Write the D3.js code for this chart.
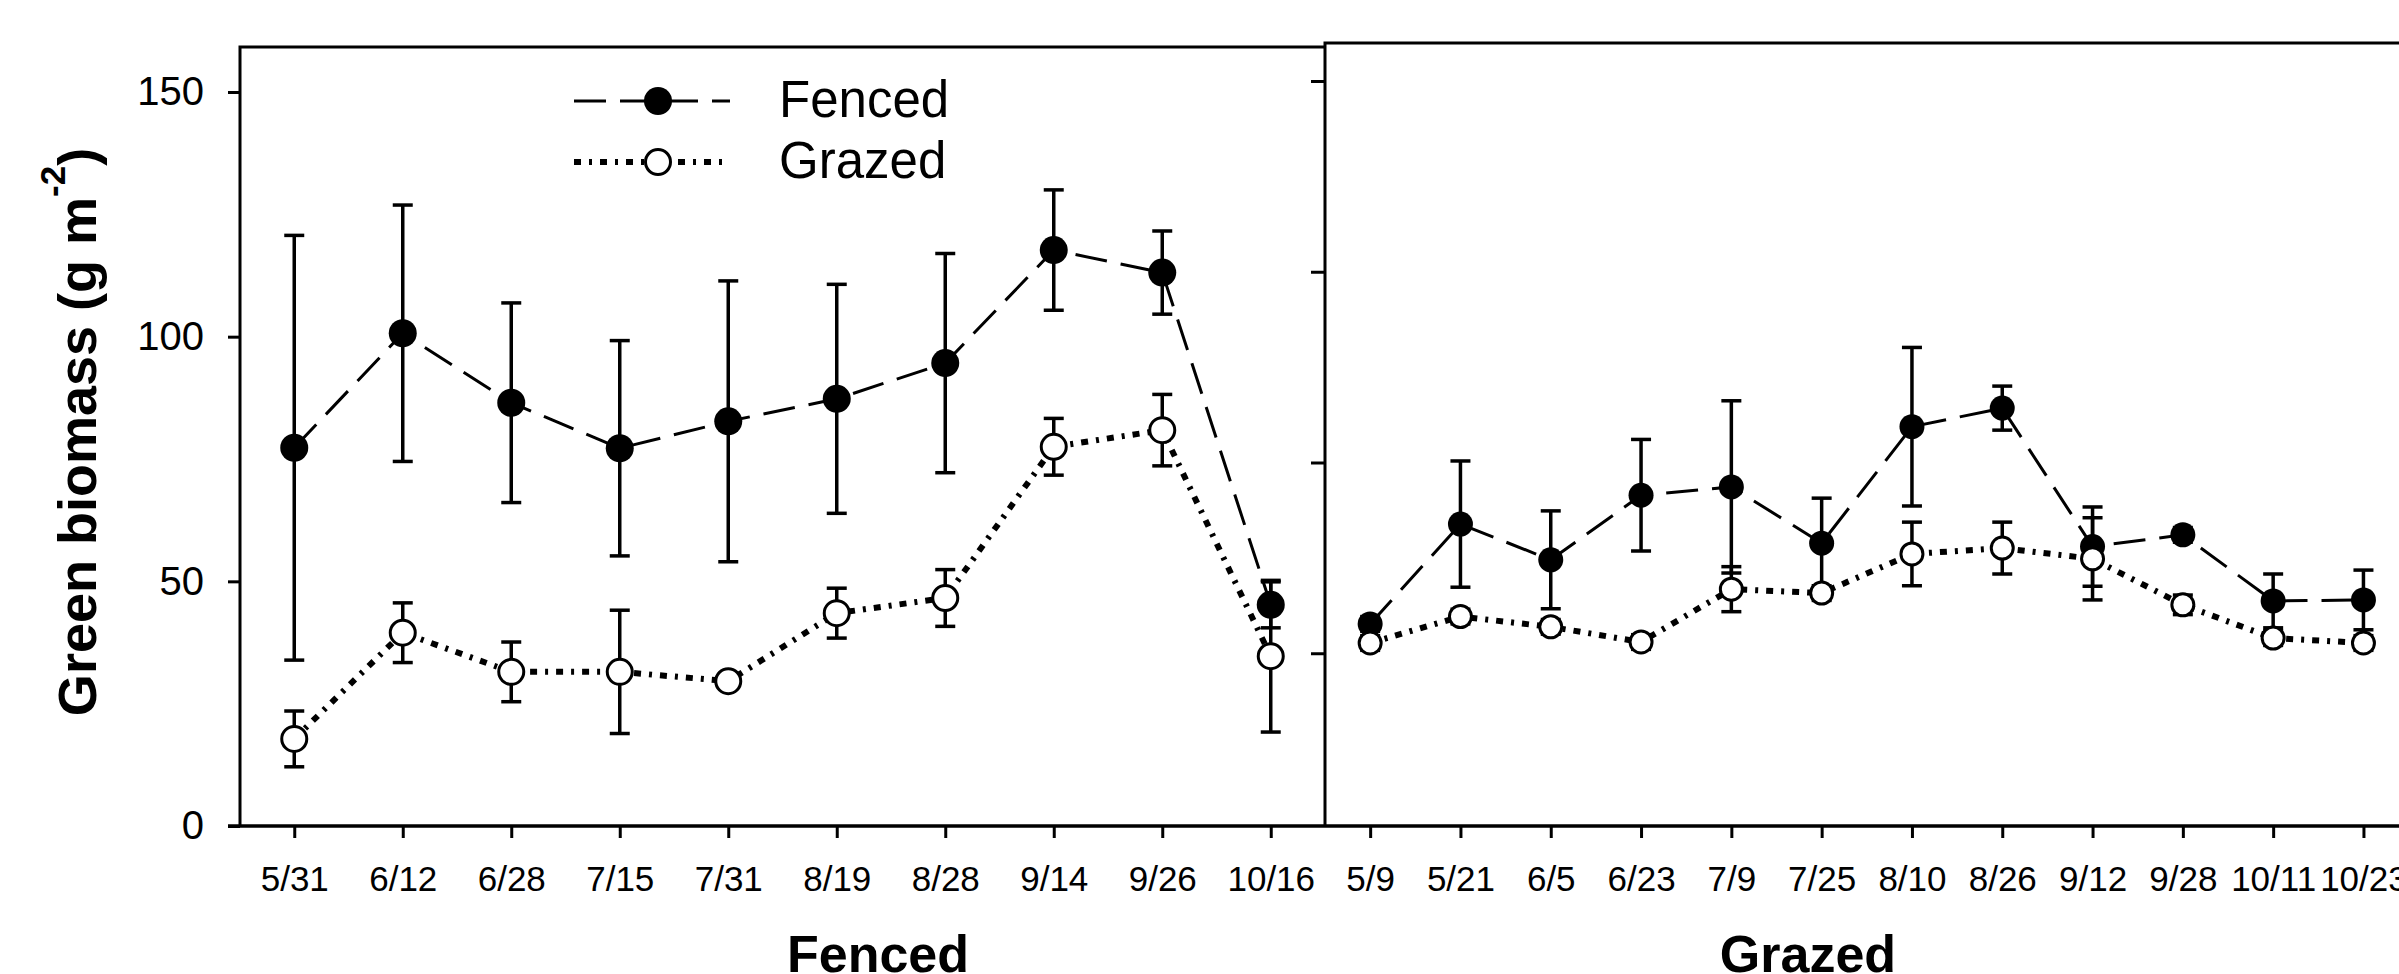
<!DOCTYPE html>
<html>
<head>
<meta charset="utf-8">
<script src="https://cdn.jsdelivr.net/npm/d3@7"></script>
<style>
  html, body { margin: 0; padding: 0; background: #fff; }
  svg { display: block; font-family: "Liberation Sans", Arial, sans-serif; }
</style>
</head>
<body>
<svg class="chart" width="2399" height="974"></svg>
<script>
// sampling dates for the two plots
const fencedDates = ["5/31", "6/12", "6/28", "7/15", "7/31", "8/19", "8/28", "9/14", "9/26", "10/16"];
const grazedDates = ["5/9", "5/21", "6/5", "6/23", "7/9", "7/25", "8/10", "8/26", "9/12", "9/28", "10/11", "10/23"];

// left plot (Fenced site)
const leftFencedMean = [77.3, 100.7, 86.5, 77.2, 82.7, 87.3, 94.6, 117.7, 113.1, 45.2];
const leftFencedSE   = [43.4, 26.2, 20.4, 22.0, 28.7, 23.4, 22.4, 12.3, 8.5, 4.7];
const leftGrazedMean = [17.8, 39.5, 31.5, 31.5, 29.6, 43.5, 46.6, 77.5, 80.9, 34.7];
const leftGrazedSE   = [5.7, 6.1, 6.1, 12.6, 1.5, 5.1, 5.8, 5.8, 7.3, 15.5];

// right plot (Grazed site)
const rightFencedMean = [41.3, 61.7, 54.4, 67.6, 69.3, 57.8, 81.6, 85.4, 57.1, 59.5, 46.0, 46.2];
const rightFencedSE   = [1.5, 12.9, 10.0, 11.4, 17.6, 9.2, 16.2, 4.5, 8.1, 1.5, 5.5, 6.1];
const rightGrazedMean = [37.4, 42.8, 40.7, 37.6, 48.4, 47.6, 55.6, 56.8, 54.6, 45.2, 38.4, 37.4];
const rightGrazedSE   = [1.5, 1.5, 1.5, 1.5, 4.6, 1.5, 6.5, 5.3, 8.4, 2.0, 1.5, 1.5];

const yTicks = [0, 50, 100, 150];
const rightTicks = [40, 80, 120, 160];
const legendItems = ["Fenced", "Grazed"];
const panelTitles = ["Fenced", "Grazed"];

const svg = d3.select('.chart');

const left = 240, mid = 1325, bottom = 826;
const y = d3.scaleLinear().domain([0, 159.2]).range([bottom, 47]);
// the right plot has its own (unlabelled) y ticks
const yR = d3.scaleLinear().domain([0, 160]).range([844, 81]);

const xL = d3.scalePoint().domain(fencedDates).range([left, mid]).padding(0.5);
const xR = d3.scalePoint().domain(grazedDates).range([mid, mid + 12 * 90.3]).padding(0.5);

const styles = {
  fenced: { dash: '32,14', width: 3 },
  grazed: { dash: '7,8,3,8', width: 6 }
};

// frames
svg.append('path')
  .attr('d', `M${left},${bottom}V47H${mid}`)
  .attr('fill', 'none').attr('stroke', '#000').attr('stroke-width', 3);
svg.append('path')
  .attr('d', `M${mid},${bottom}V43H2399`)
  .attr('fill', 'none').attr('stroke', '#000').attr('stroke-width', 3);
svg.append('line')
  .attr('x1', left - 12).attr('x2', 2399)
  .attr('y1', bottom).attr('y2', bottom)
  .attr('stroke', '#000').attr('stroke-width', 3.5);

// y axis (left)
const yAxis = svg.append('g')
  .attr('transform', `translate(${left},0)`)
  .call(d3.axisLeft(y).tickValues(yTicks).tickSize(12).tickPadding(24).tickFormat(d3.format('d')));
yAxis.select('.domain').remove();
yAxis.selectAll('line').attr('stroke-width', 3);
yAxis.selectAll('text').attr('font-size', 40).attr('font-family', '"Liberation Sans", Arial, sans-serif').attr('fill', '#000');

// right plot ticks
const yAxisR = svg.append('g')
  .attr('transform', `translate(${mid},0)`)
  .call(d3.axisLeft(yR).tickValues(rightTicks).tickSize(14).tickFormat(''));
yAxisR.select('.domain').remove();
yAxisR.selectAll('line').attr('stroke-width', 3);

// x axes
const drawX = (scale) => {
  const g = svg.append('g')
    .attr('transform', `translate(0,${bottom})`)
    .call(d3.axisBottom(scale).tickSize(12).tickPadding(20));
  g.select('.domain').remove();
  g.selectAll('line').attr('stroke-width', 3);
  g.selectAll('text')
    .attr('font-size', 35)
    .attr('font-family', '"Liberation Sans", Arial, sans-serif')
    .attr('fill', '#000')
    .attr('dy', '0.95em');
};
drawX(xL);
drawX(xR);

// series
const makeSeries = (dates, mean, se) => dates.map((d, i) => ({ date: d, v: mean[i], se: se[i] }));
const panels = [
  { x: xL, r: 14, fenced: makeSeries(fencedDates, leftFencedMean, leftFencedSE), grazed: makeSeries(fencedDates, leftGrazedMean, leftGrazedSE) },
  { x: xR, r: 12.5, fenced: makeSeries(grazedDates, rightFencedMean, rightFencedSE), grazed: makeSeries(grazedDates, rightGrazedMean, rightGrazedSE) }
];

panels.forEach(p => {
  const line = d3.line().x(d => p.x(d.date)).y(d => y(d.v));

  ['fenced', 'grazed'].forEach(k => {
    svg.append('path')
      .datum(p[k])
      .attr('d', line)
      .attr('fill', 'none')
      .attr('stroke', '#000')
      .attr('stroke-width', styles[k].width)
      .attr('stroke-dasharray', styles[k].dash);
  });

  ['fenced', 'grazed'].forEach(k => {
    const bars = svg.append('g').selectAll('g')
      .data(p[k])
      .enter().append('g')
      .attr('stroke', '#000');
    bars.append('line')
      .attr('x1', d => p.x(d.date)).attr('x2', d => p.x(d.date))
      .attr('y1', d => y(d.v - d.se)).attr('y2', d => y(d.v + d.se))
      .attr('stroke-width', 3.5);
    bars.selectAll('.cap')
      .data(d => [d.v - d.se, d.v + d.se].map(v => ({ date: d.date, v })))
      .enter().append('line')
      .attr('class', 'cap')
      .attr('x1', d => p.x(d.date) - 10).attr('x2', d => p.x(d.date) + 10)
      .attr('y1', d => y(d.v)).attr('y2', d => y(d.v))
      .attr('stroke-width', 3.5);
  });

  svg.append('g').selectAll('circle')
    .data(p.fenced)
    .enter().append('circle')
    .attr('cx', d => p.x(d.date)).attr('cy', d => y(d.v))
    .attr('r', p.r)
    .attr('fill', '#000');

  svg.append('g').selectAll('circle')
    .data(p.grazed)
    .enter().append('circle')
    .attr('cx', d => p.x(d.date)).attr('cy', d => y(d.v))
    .attr('r', p.r - 1.5)
    .attr('fill', '#fff')
    .attr('stroke', '#000')
    .attr('stroke-width', 3);
});

// legend
const legend = svg.append('g').selectAll('g')
  .data(legendItems)
  .enter().append('g')
  .attr('transform', (d, i) => `translate(0,${101 + i * 61})`);
legend.append('line')
  .attr('x1', 574).attr('x2', 730)
  .attr('stroke', '#000')
  .attr('stroke-width', (d, i) => i ? styles.grazed.width : styles.fenced.width)
  .attr('stroke-dasharray', (d, i) => i ? styles.grazed.dash : styles.fenced.dash);
legend.append('circle')
  .attr('cx', 658).attr('r', (d, i) => i ? 12.5 : 14)
  .attr('fill', (d, i) => i ? '#fff' : '#000')
  .attr('stroke', '#000')
  .attr('stroke-width', (d, i) => i ? 3 : 0);
legend.append('text')
  .attr('x', 779).attr('y', 16)
  .attr('font-size', 51)
  .text(d => d);

// panel titles under the axis (cut by the bottom edge, as in the original)
svg.append('g').selectAll('text')
  .data(panelTitles)
  .enter().append('text')
  .attr('x', (d, i) => i ? 1808 : 878)
  .attr('y', 972)
  .attr('text-anchor', 'middle')
  .attr('font-size', 52)
  .attr('font-weight', 'bold')
  .text(d => d);

// y axis title
const title = svg.append('text')
  .attr('transform', 'translate(96,432) rotate(-90)')
  .attr('text-anchor', 'middle')
  .attr('font-size', 54)
  .attr('font-weight', 'bold');
title.append('tspan').text('Green biomass (g m');
title.append('tspan').attr('font-size', 35).attr('dy', -31).text('-2');
title.append('tspan').attr('dy', 31).text(')');
</script>
</body>
</html>
